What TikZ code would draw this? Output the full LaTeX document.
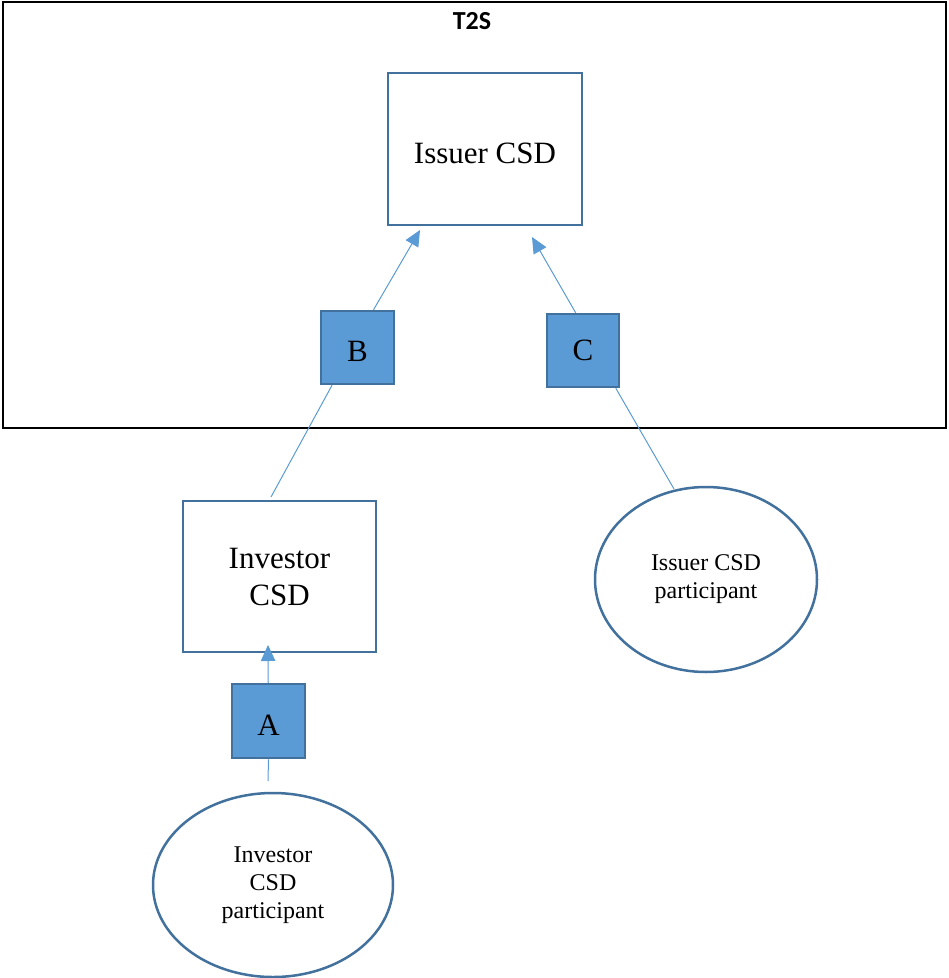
\documentclass[tikz,border=0pt]{standalone}
\usepackage{fontspec}
\setmainfont{Liberation Serif}
\newfontfamily\titlefont{Carlito}
\usetikzlibrary{arrows.meta,shapes.geometric}
\definecolor{boxedge}{HTML}{41719C}
\definecolor{boxfill}{HTML}{5B9BD5}
\definecolor{linkcol}{HTML}{5B9BD5}
\tikzset{
  entity/.style={draw=boxedge, line width=2.5pt, fill=white, rectangle, inner sep=0pt,
    align=center, font=\fontsize{31}{37}\selectfont},
  flag/.style={draw=boxedge, line width=2.5pt, fill=boxfill, rectangle, inner sep=0pt,
    minimum width=73pt, minimum height=73pt, font=\fontsize{31}{37}\selectfont},
  member/.style={draw=boxedge, line width=2.5pt, fill=white, ellipse, inner sep=0pt,
    align=center, font=\fontsize{24}{28}\selectfont},
  sunk/.style={text height=28pt, text depth=0pt},
  link/.style={draw=linkcol, line width=1pt},
  linkarrow/.style={link, -{Triangle[length=16pt, width=14.5pt]}, color=linkcol},
}
\begin{document}
\begin{tikzpicture}[x=1pt, y=-1pt]
\useasboundingbox (0,0) rectangle (949,978);

% T2S frame
\draw[line width=2.5pt] (3,2) rectangle (946,428);
\node (t2s) at (472,21) {\titlefont\bfseries\fontsize{26}{30}\selectfont T2S};

% entities
\node[entity, sunk, minimum width=194pt, minimum height=152pt] (issuer) at (485,149) {Issuer CSD};
\node[entity, minimum width=193pt, minimum height=151pt] (investor) at (279.5,576.5) {Investor\\CSD};

% link labels
\node[flag, sunk] (B) at (357.5,347.5) {B};
\node[flag, minimum width=72pt] (C) at (583,350.5) {C};
\node[flag, sunk, minimum height=74pt] (A) at (268.5,721) {A};

% participants
\node[member, minimum width=222pt, minimum height=185pt] (ipart) at (706,579.5) {Issuer CSD\\participant};
\node[member, minimum width=240pt, minimum height=184pt] (vpart) at (273,885) {Investor\\CSD\\participant};

% connector ends
\coordinate (btip) at (420,230);
\coordinate (ctip) at (532,237);
\coordinate (atip) at (268,645);
\coordinate (invtop) at (271,497);
\coordinate (abot) at (268,781);
\coordinate (iptop) at (674,489);

% connectors
\draw[linkarrow] (B.67) -- (btip);
\draw[linkarrow] (C.101) -- (ctip);
\draw[linkarrow] (A) -- (atip);
\draw[link] (B.236) -- (invtop);
\draw[link] (A.south) -- (abot);
\draw[link] (C.-49) -- (iptop);
\end{tikzpicture}
\end{document}
